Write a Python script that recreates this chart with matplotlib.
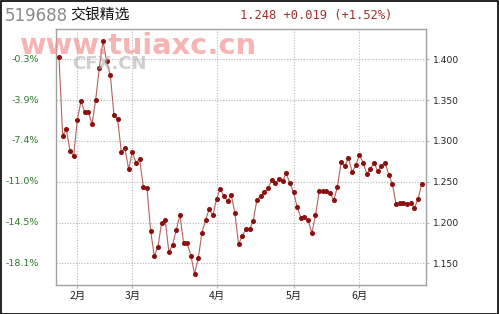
import matplotlib
matplotlib.use("Agg")
import matplotlib.pyplot as plt
from matplotlib.patches import Rectangle

plt.rcParams['font.family'] = ['Noto Sans CJK SC', 'DejaVu Sans']

code = "519688"
name = "交银精选"
quote = "1.248 +0.019 (+1.52%)"

nav = [1.4028, 1.3064, 1.3146, 1.2880, 1.2815, 1.3256, 1.3489, 1.3354, 1.3358, 1.3203,
       1.3501, 1.3897, 1.4228, 1.3979, 1.3808, 1.3317, 1.3265, 1.2868, 1.2909, 1.2653,
       1.2864, 1.2733, 1.2776, 1.2439, 1.2426, 1.1900, 1.1590, 1.1700, 1.1998, 1.2027,
       1.1635, 1.1728, 1.1908, 1.2096, 1.1745, 1.1745, 1.1590, 1.1369, 1.1561, 1.1871,
       1.2031, 1.2165, 1.2086, 1.2290, 1.2414, 1.2325, 1.2267, 1.2337, 1.2120, 1.1734,
       1.1835, 1.1917, 1.1917, 1.2018, 1.2276, 1.2325, 1.2370, 1.2417, 1.2515, 1.2482,
       1.2529, 1.2505, 1.2603, 1.2480, 1.2376, 1.2188, 1.2061, 1.2071, 1.2025, 1.1871,
       1.2086, 1.2384, 1.2390, 1.2382, 1.2358, 1.2276, 1.2439, 1.2738, 1.2692, 1.2794,
       1.2619, 1.2701, 1.2831, 1.2733, 1.2594, 1.2659, 1.2733, 1.2627, 1.2696, 1.2733,
       1.2586, 1.2468, 1.2227, 1.2235, 1.2235, 1.2227, 1.2235, 1.2181, 1.2288, 1.2476]

month_labels = ["2月", "3月", "4月", "5月", "6月"]
month_idx = [5, 20, 43, 64, 82]

right_ticks = [1.400, 1.350, 1.300, 1.250, 1.200, 1.150]
right_labels = ["1.400", "1.350", "1.300", "1.250", "1.200", "1.150"]
left_labels = ["-0.3%", "-3.9%", "-7.4%", "-11.0%", "-14.5%", "-18.1%"]

W, H = 499, 314
fig = plt.figure(figsize=(W / 100, H / 100), dpi=100)
fig.patch.set_facecolor("white")

# outer black border
fig.add_artist(Rectangle((0.5 / W, 0.5 / H), (W - 1.5) / W, (H - 1.5) / H,
                         transform=fig.transFigure, fill=False, edgecolor="black", lw=1.2))

ax = fig.add_axes([56 / W, 29 / H, (425.7 - 56) / W, (285 - 29.3) / H])
x = list(range(len(nav)))
ax.plot(x, nav, color="#b86060", lw=0.8, zorder=3)
ax.plot(x, nav, linestyle="none", marker="o", ms=2.6, color="#8b0f0f", zorder=4)

ax.set_xlim(-0.82, 100.08)
ax.set_ylim(1.1234, 1.4368)

ax.set_xticks(month_idx)
ax.set_xticklabels(month_labels, fontsize=7.5, color="#222222")
ax.set_yticks(right_ticks)
ax.set_yticklabels(right_labels, fontsize=6.6, color="#222222", family="DejaVu Sans")
ax.yaxis.tick_right()
ax.tick_params(axis="both", length=2, color="#bbbbbb", pad=2)
ax.tick_params(axis="y", pad=3)

ax.grid(True, color="#b8b8b8", linestyle=(0, (1, 1.5)), lw=0.8)
for s in ax.spines.values():
    s.set_color("#a0a0a0")
    s.set_linewidth(1.0)

# left percentage labels
for v, lab in zip(right_ticks, left_labels):
    ax.text(-0.045, v, lab, transform=ax.get_yaxis_transform(), ha="right", va="center",
            fontsize=6.8, color="#2f7a2f", family="DejaVu Sans")

# header texts
fig.text(5 / W, 1 - 16 / H, code, fontsize=12, color="#8a8a8a", va="center", ha="left",
         family="DejaVu Sans")
fig.text(70 / W, 1 - 15 / H, name, fontsize=10.7, color="#111111", va="center", ha="left")
fig.text(240 / W, 1 - 15 / H, quote, fontsize=8.7, color="#a03030", va="center", ha="left",
         family="DejaVu Sans Mono")

# watermarks
fig.text(20 / W, 1 - 46 / H, "www.tuiaxc.cn", fontsize=20.8, color="#f28c8c", alpha=0.65,
         fontweight="bold", va="center", ha="left", family="DejaVu Sans", zorder=10)
fig.text(72 / W, 1 - 64 / H, "CFX.CN", fontsize=13, color="#b0b0b0", alpha=0.6,
         fontweight="bold", va="center", ha="left", family="DejaVu Sans", zorder=9)

fig.savefig("out.png", dpi=100)
